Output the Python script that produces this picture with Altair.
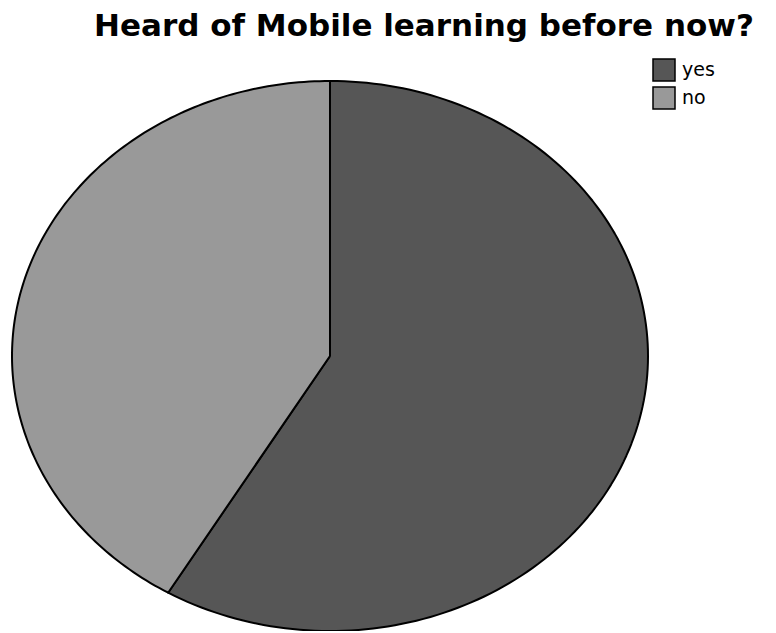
import altair as alt
import pandas as pd

# ---- data ----
categories = ["yes", "no"]
percent = [58.5, 41.5]
order_rank = [0, 1]
colors = ["#565656", "#999999"]
title_text = "Heard of Mobile learning before now?"

df = pd.DataFrame({"answer": categories, "percent": percent, "rank": order_rank})

N = 160  # points along each wedge's outer edge

base = (
    alt.Chart(df)
    .transform_joinaggregate(total="sum(percent)")
    .transform_window(cum="sum(percent)", sort=[alt.SortField("rank")], frame=[None, 0])
    .transform_calculate(
        a0="2*PI*(datum.cum - datum.percent)/datum.total",
        a1="2*PI*datum.cum/datum.total",
        step=f"sequence(0, {N + 2})",
    )
    .transform_flatten(["step"])
    .transform_calculate(
        ang=f"datum.a0 + (datum.a1 - datum.a0) * (datum.step - 1) / {N - 1}",
        edge=f"datum.step >= 1 && datum.step <= {N}",
    )
    .transform_calculate(
        px="datum.edge ? sin(datum.ang) : 0",
        py="datum.edge ? cos(datum.ang) : 0",
    )
)

chart = (
    base.mark_line(stroke="black", strokeWidth=2, strokeJoin="round", fillOpacity=1)
    .encode(
        x=alt.X("px:Q", scale=alt.Scale(domain=[-1, 1], nice=False, zero=False), axis=None),
        y=alt.Y("py:Q", scale=alt.Scale(domain=[-1, 1], nice=False, zero=False), axis=None),
        fill=alt.Fill(
            "answer:N",
            scale=alt.Scale(domain=categories, range=colors),
            legend=alt.Legend(
                orient="none",
                legendX=640,
                legendY=-23,
                title=None,
                symbolType="square",
                symbolSize=484,
                symbolStrokeColor="black",
                symbolStrokeWidth=1.5,
                symbolOpacity=1,
                labelFont="DejaVu Sans",
                labelFontSize=19,
                labelColor="black",
                labelOffset=6,
                rowPadding=0,
                padding=0,
            ),
        ),
        detail="answer:N",
        order="step:Q",
    )
    .properties(
        width=636,
        height=550,
        title=alt.TitleParams(
            title_text,
            font="DejaVu Sans",
            fontSize=31,
            fontWeight="bold",
            color="black",
            anchor="middle",
            frame="group",
            dx=94,
            offset=15,
        ),
        autosize=alt.AutoSizeParams(type="none"),
        padding={"left": 4, "top": 73, "right": 120, "bottom": 0},
    )
    .configure_view(stroke=None)
)

chart.save("out.html", embed_options={"renderer": "svg", "actions": False})
